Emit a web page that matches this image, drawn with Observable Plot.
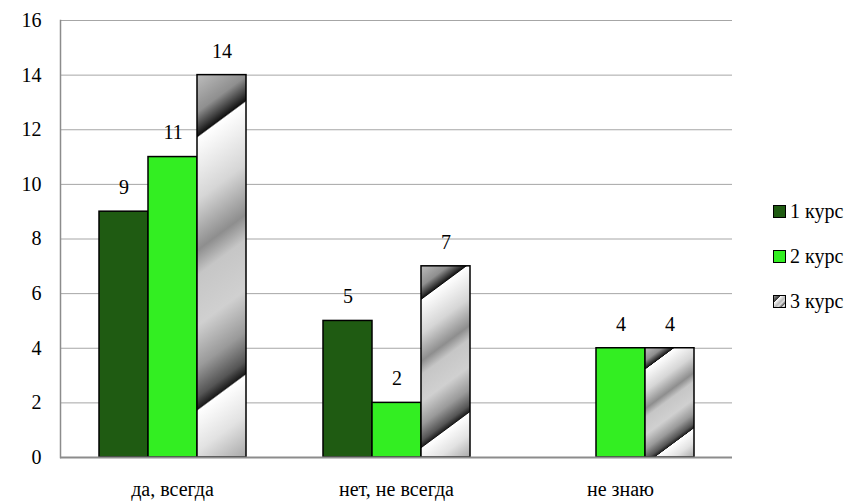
<!DOCTYPE html>
<html><head><meta charset="utf-8">
<script src="https://cdn.jsdelivr.net/npm/d3@7"></script>
<script src="https://cdn.jsdelivr.net/npm/@observablehq/plot@0.6"></script>
<style>
body{margin:0;background:#fff;font-family:'Liberation Serif';}
#wrap{position:relative;width:864px;height:503px;}
#legend{position:absolute;left:773px;top:189px;font-size:20px;color:#000;font-family:'Liberation Serif';}
.item{display:flex;align-items:center;height:45px;white-space:nowrap;}
.sw{width:11px;height:11px;border:1px solid #000;margin-right:4px;box-sizing:content-box;}
</style>
</head><body>
<div id="wrap"><div id="chart"></div><div id="legend"></div></div>
<script>
const categories = ["да, всегда", "нет, не всегда", "не знаю"];
const seriesNames = ["1 курс", "2 курс", "3 курс"];
const course1 = [9, 5, null];
const course2 = [11, 2, 4];
const course3 = [14, 7, 4];
const yTicks = [0, 2, 4, 6, 8, 10, 12, 14, 16];
const colors = ["#1f5b12", "#33ee22", "#c8c8c9"];

const seriesValues = [course1, course2, course3];
const table = categories.flatMap((c, i) =>
  seriesValues.map((arr, j) => ({category: c, series: seriesNames[j], value: arr[i]}))
).filter(d => d.value != null);

const svg = Plot.plot({
  width: 864, height: 503,
  marginLeft: 59, marginRight: 132, marginTop: 20, marginBottom: 46,
  style: {fontFamily: "Liberation Serif", fontSize: "20px", color: "#000", background: "#fff"},
  fx: {domain: categories, paddingInner: 0, paddingOuter: 0, label: null},
  x: {domain: seriesNames, paddingInner: 0, paddingOuter: 0.74, axis: null},
  y: {domain: [0, 16], label: null},
  color: {domain: seriesNames, range: colors},
  marks: [
    Plot.ruleY(yTicks.filter(t => t > 0), {stroke: "#a6a6a6", strokeWidth: 1}),
    Plot.barY(table, {fx: "category", x: "series", y: "value", fill: "series", stroke: "#000", strokeWidth: 1.5}),
    Plot.text(table, {fx: "category", x: "series", y: "value", text: d => String(d.value), dy: -24, lineAnchor: "middle", fontSize: 20, fill: "#000"}),
    Plot.ruleY([0], {stroke: "#8c8c8c", strokeWidth: 2}),
    Plot.frame({anchor: "left", facetAnchor: "left", stroke: "#8c8c8c", strokeWidth: 1.5}),
    Plot.axisY({ticks: yTicks, tickSize: 0, tickPadding: 19, fontSize: 20, label: null, tickFormat: d => String(d)}),
    Plot.axisFx({anchor: "bottom", tickSize: 0, tickPadding: 24, fontSize: 20, label: null})
  ]
});
document.getElementById("chart").appendChild(svg);

// diagonal gradient fill for the 3rd series, placed on each bar from its own scaled geometry
const ns = "http://www.w3.org/2000/svg";
let defs = svg.querySelector("defs");
if (!defs) { defs = document.createElementNS(ns, "defs"); svg.insertBefore(defs, svg.firstChild); }
const stops = [
  [0, "#bdbdbd"], [0.09, "#8f8f8f"], [0.13, "#3a3a3a"], [0.148, "#111"], [0.152, "#fff"],
  [0.30, "#d6d6d6"], [0.42, "#8e8e8e"], [0.48, "#c6c6c6"], [0.60, "#d0d0d0"],
  [0.70, "#9a9a9a"], [0.77, "#555"], [0.80, "#1a1a1a"], [0.804, "#fff"], [0.9, "#e2e2e2"], [1, "#a8a8a8"]
];
const dx = 0.595, dy = 0.804;
let gi = 0;
svg.querySelectorAll("rect").forEach(r => {
  const f = (r.getAttribute("fill") || "").toLowerCase();
  if (f !== colors[2]) return;
  const x = +r.getAttribute("x"), y = +r.getAttribute("y");
  const w = +r.getAttribute("width"), h = +r.getAttribute("height");
  const L = w * dx + h * dy;
  const g = document.createElementNS(ns, "linearGradient");
  const id = "diag" + (gi++);
  g.setAttribute("id", id);
  g.setAttribute("gradientUnits", "userSpaceOnUse");
  g.setAttribute("x1", x); g.setAttribute("y1", y);
  g.setAttribute("x2", x + dx * L); g.setAttribute("y2", y + dy * L);
  stops.forEach(([o, c]) => {
    const s = document.createElementNS(ns, "stop");
    s.setAttribute("offset", o); s.setAttribute("stop-color", c);
    g.appendChild(s);
  });
  defs.appendChild(g);
  r.setAttribute("fill", `url(#${id})`);
});

// legend
const legend = document.getElementById("legend");
seriesNames.forEach((name, i) => {
  const item = document.createElement("div");
  item.className = "item";
  const sw = document.createElement("span");
  sw.className = "sw";
  sw.style.background = i === 2
    ? "linear-gradient(135deg,#999 0%,#333 28%,#fff 30%,#bbb 55%,#ddd 68%,#444 85%,#fff 87%,#aaa 100%)"
    : colors[i];
  const t = document.createElement("span");
  t.textContent = name;
  item.appendChild(sw); item.appendChild(t);
  legend.appendChild(item);
});
</script>
</body></html>
